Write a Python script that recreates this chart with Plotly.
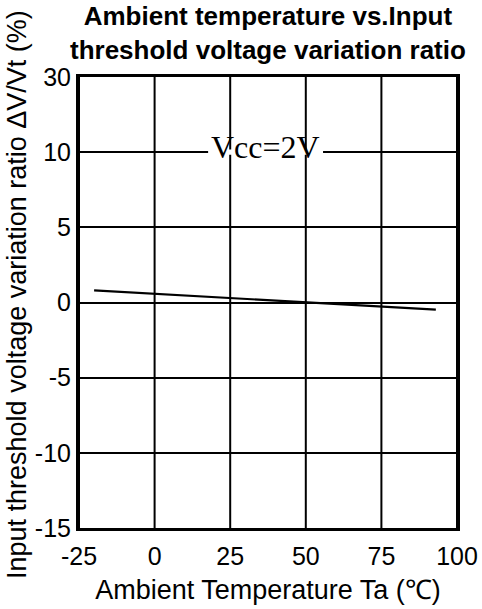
import numpy as np
import plotly.graph_objects as go

# ---- data ----
temp_c = [-20, 0, 25, 50, 75, 93]
ratio_pct = [0.80, 0.58, 0.26, 0.00, -0.26, -0.47]

x_ticks = [-25, 0, 25, 50, 75, 100]
x_tick_labels = ["-25", "0", "25", "50", "75", "100"]
y_tick_values = [-15, -10, -5, 0, 5, 10, 30]
y_tick_labels = ["-15", "-10", "-5", "0", "5", "10", "30"]

title_text = "<b>Ambient temperature vs.Input<br>threshold voltage variation ratio</b>"
x_title = "Ambient Temperature Ta (℃)"
y_title = "Input threshold voltage variation ratio ΔV/Vt (%)"
label_text = "Vcc=2V"
label_temp = 36.8
label_value = 10

# piecewise scale: equally spaced tick positions
y_positions = list(range(len(y_tick_values)))
def ypos(v):
    return np.interp(v, y_tick_values, y_positions)

fig = go.Figure()
fig.add_trace(go.Scatter(x=temp_c, y=ypos(ratio_pct), mode="lines",
                         line=dict(color="black", width=2.2), showlegend=False,
                         hoverinfo="skip"))

font_sans = "Liberation Sans, Arial, sans-serif"

W, H = 482, 609
ML, MR, MT, MB = 79, 25, 77, 81
plot_w = W - ML - MR
plot_h = H - MT - MB

shapes = []
shapes.append(dict(type="rect", xref="x", yref="y", x0=17.7, x1=55.7,
                   y0=ypos(label_value) - 0.035, y1=ypos(label_value) + 0.035,
                   fillcolor="white", line=dict(width=0), layer="between"))
for xv in x_ticks:
    shapes.append(dict(type="line", xref="x", yref="paper", x0=xv, x1=xv, y0=0, y1=1,
                       line=dict(color="black", width=2), layer="between"))

fig.update_layout(
    width=W, height=H,
    margin=dict(l=ML, r=MR, t=MT, b=MB, autoexpand=False),
    paper_bgcolor="white", plot_bgcolor="white",
    shapes=shapes,
    xaxis=dict(range=[-25, 100], tickvals=x_ticks, ticktext=x_tick_labels,
               showgrid=False, zeroline=False, automargin=False,
               showline=True, linecolor="black", linewidth=3, mirror=True,
               ticks="", ticklen=0, ticklabelstandoff=4,
               tickfont=dict(family=font_sans, size=25, color="black"),
               title=dict(text=x_title, font=dict(family=font_sans, size=27, color="black"),
                          standoff=12)),
    yaxis=dict(range=[0, len(y_tick_values) - 1], tickvals=y_positions, ticktext=y_tick_labels,
               showgrid=True, gridcolor="black", gridwidth=2, zeroline=False, automargin=False,
               showline=True, linecolor="black", linewidth=3, mirror=True,
               ticks="", ticklen=0,
               tickfont=dict(family=font_sans, size=25, color="black")),
    annotations=[
        dict(text=title_text, xref="paper", yref="paper", x=0.5,
             y=(plot_h + MT - 33) / plot_h, xanchor="center", yanchor="middle",
             showarrow=False,
             font=dict(family=font_sans, size=26, color="black")),
        dict(text=label_text, xref="x", yref="y", x=label_temp, y=ypos(label_value) + 0.07,
             showarrow=False, xanchor="center", yanchor="middle",
             font=dict(family="Liberation Serif, Times New Roman, serif", size=32, color="black")),
        dict(text=y_title, xref="paper", yref="paper", x=(17 - ML) / plot_w,
             y=(plot_h + MT - 295) / plot_h,
             xanchor="center", yanchor="middle", textangle=-90, showarrow=False,
             font=dict(family=font_sans, size=27, color="black")),
    ],
)

fig.write_html("out.html", config={"displayModeBar": False, "staticPlot": True},
               post_script="document.body.style.margin='0';")
